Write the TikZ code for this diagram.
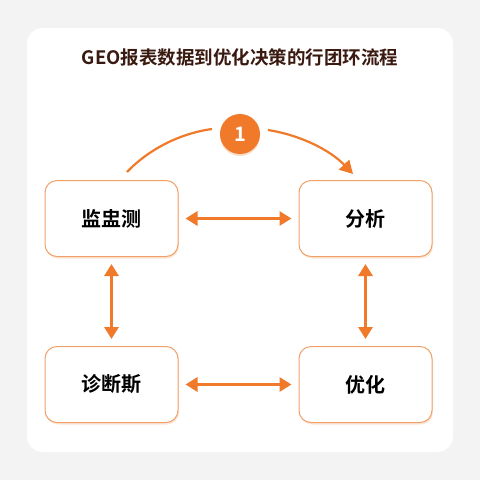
\documentclass[tikz,border=0pt]{standalone}
\usepackage{fontspec}
\newfontfamily\cjk{Noto Sans CJK SC}[BoldFont={Noto Sans CJK SC Bold}]
\usetikzlibrary{arrows.meta,positioning,shadows}
\definecolor{geoorange}{HTML}{F07A2A}
\definecolor{geoedge}{HTML}{F2A06A}
\definecolor{geotitle}{HTML}{3A1A10}
\definecolor{geobg}{HTML}{F3F3F3}

\tikzset{
  stagebox/.style={draw=geoedge, line width=1pt, fill=white, rounded corners=12pt,
    minimum width=133pt, minimum height=76pt,
    font=\cjk\bfseries\fontsize{20}{24}\selectfont,
    drop shadow={shadow xshift=1pt, shadow yshift=-2pt, fill=geoorange, opacity=0.18}},
  link/.style={geoorange, line width=3pt, shorten <=7pt, shorten >=7pt,
    {Triangle[length=12pt,width=14pt]}-{Triangle[length=12pt,width=14pt]}},
  loop/.style={geoorange, line width=2.2pt},
}

\begin{document}
\begin{tikzpicture}[x=1pt,y=-1pt]
\useasboundingbox (0,0) rectangle (480,480);
\fill[geobg] (0,0) rectangle (480,480);
\fill[white, rounded corners=16pt] (27,28) rectangle (453,452);

\node[font=\cjk\bfseries\fontsize{18.5}{22}\selectfont, text=geotitle] (title) at (240,57) {GEO报表数据到优化决策的行团环流程};

\node[stagebox] (mon) at (111.5,218.5) {监盅测};
\node[stagebox] (ana) at (365.5,218.5) {分析};
\node[stagebox] (dia) at (111.5,384.5) {诊断斯};
\node[stagebox] (opt) at (365.5,384.5) {优化};

\node[circle, fill=geoorange, minimum size=40pt, inner sep=0pt, text=white,
  font=\cjk\bfseries\fontsize{20}{24}\selectfont,
  drop shadow={shadow xshift=0pt, shadow yshift=-2pt, fill=geoorange, opacity=0.25}] (step1) at (240,134) {1};

\coordinate (arcstart) at (127,172);
\coordinate (arcend) at (353,174);

\draw[loop] (arcstart) .. controls (150,148) and (182,133) .. (212,129);
\draw[loop, -{Triangle[length=13pt,width=14pt]}] (268,130) .. controls (300,135) and (330,150) .. (arcend);

\draw[link] (mon) -- (ana);
\draw[link] (dia) -- (opt);
\draw[link] (mon) -- (dia);
\draw[link] (ana) -- (opt);
\end{tikzpicture}
\end{document}
